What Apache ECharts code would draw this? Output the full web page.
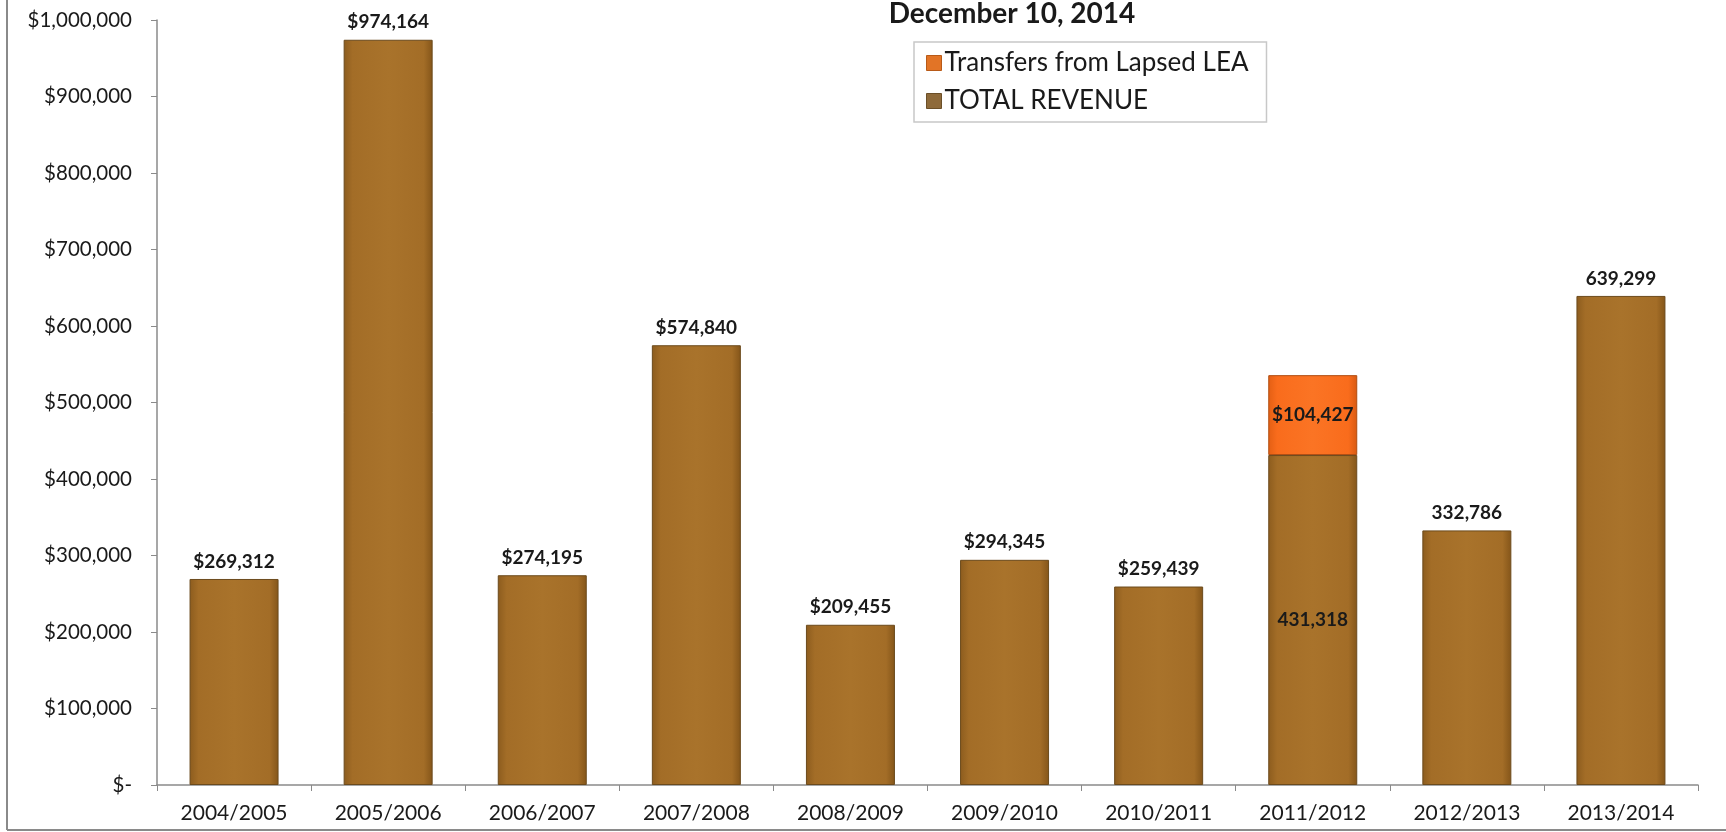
<!DOCTYPE html>
<html>
<head>
<meta charset="utf-8">
<script src="https://cdn.jsdelivr.net/npm/echarts@6/dist/echarts.min.js"></script>
<style>
html,body{margin:0;padding:0;background:#fff;}
#chart{width:1726px;height:832px;}
</style>
</head>
<body>
<div id="chart"></div>
<script>
const titleText = 'December 10, 2014';
const categories = ['2004/2005','2005/2006','2006/2007','2007/2008','2008/2009','2009/2010','2010/2011','2011/2012','2012/2013','2013/2014'];
const totalRevenue = [269312, 974164, 274195, 574840, 209455, 294345, 259439, 431318, 332786, 639299];
const transfers = [null, null, null, null, null, null, null, 104427, null, null];
const totalLabels = ['$269,312','$974,164','$274,195','$574,840','$209,455','$294,345','$259,439','431,318','332,786','639,299'];
const transferLabels = ['','','','','','','','$104,427','',''];
const yTickLabels = ['$-','$100,000','$200,000','$300,000','$400,000','$500,000','$600,000','$700,000','$800,000','$900,000','$1,000,000'];

const FONT = 'Lato, "Open Sans", sans-serif';
const brownGrad = new echarts.graphic.LinearGradient(0,0,1,0,[
  {offset:0,color:'#8c5c1e'},{offset:0.1,color:'#a36d27'},{offset:0.5,color:'#a9732b'},{offset:0.9,color:'#a36d27'},{offset:1,color:'#845519'}]);
const orangeGrad = new echarts.graphic.LinearGradient(0,0,1,0,[
  {offset:0,color:'#e35f14'},{offset:0.1,color:'#f96c1c'},{offset:0.5,color:'#fb7424'},{offset:0.9,color:'#f96c1c'},{offset:1,color:'#d85a12'}]);

const chart = echarts.init(document.getElementById('chart'));
chart.setOption({
  backgroundColor:'#fff',
  animation:false,
  title:{text:titleText,left:1007,top:-5,textAlign:'center',
    textStyle:{fontFamily:FONT,fontWeight:'bold',fontSize:28,color:'#1a1a1a'}},
  legend:{
    data:[{name:'Transfers from Lapsed LEA',itemStyle:{color:'#e27426',borderColor:'#b85a18',borderWidth:1}},
          {name:'TOTAL REVENUE',itemStyle:{color:'#8e6a3a',borderColor:'#6b4f28',borderWidth:1}}],
    orient:'vertical',left:914,top:42,
    padding:[8,18,8,12],itemGap:12,
    borderColor:'#c8c8c8',borderWidth:1.5,
    icon:'rect',itemWidth:15,itemHeight:15,
    textStyle:{fontFamily:FONT,fontSize:26,color:'#1a1a1a',padding:[0,0,0,-2]}
  },
  grid:{left:157,right:28,top:20,bottom:47,containLabel:false},
  xAxis:{
    type:'category',data:categories,
    axisLine:{lineStyle:{color:'#8a8a8a',width:1.5}},
    axisTick:{show:true,length:6,lineStyle:{color:'#8a8a8a'}},
    axisLabel:{fontFamily:FONT,fontSize:21,color:'#1a1a1a',margin:18}
  },
  yAxis:{
    type:'value',min:0,max:1000000,interval:100000,
    splitLine:{show:false},
    axisLine:{show:true,lineStyle:{color:'#8a8a8a',width:1.5}},
    axisTick:{show:true,length:6,lineStyle:{color:'#8a8a8a'}},
    axisLabel:{fontFamily:FONT,fontSize:20.5,color:'#1a1a1a',margin:25,
      formatter:v=>yTickLabels[Math.round(v/100000)]}
  },
  series:[
    {
      name:'TOTAL REVENUE',type:'bar',stack:'s',barWidth:89,
      itemStyle:{color:brownGrad,borderColor:'#6b4a1c',borderWidth:1},
      data:totalRevenue.map((v,i)=>({value:v,
        label:{show:true,position:transfers[i]!=null?'inside':'top',distance:8,
          formatter:totalLabels[i],fontFamily:FONT,fontWeight:'bold',fontSize:19,color:'#1a1a1a'}}))
    },
    {
      name:'Transfers from Lapsed LEA',type:'bar',stack:'s',barWidth:89,
      itemStyle:{color:orangeGrad,borderColor:'#b14c10',borderWidth:1},
      data:transfers.map((v,i)=>({value:v,
        label:{show:v!=null,position:'inside',formatter:transferLabels[i],
          fontFamily:FONT,fontWeight:'bold',fontSize:19,color:'#1a1a1a'}}))
    }
  ],
  graphic:[
    {type:'line',shape:{x1:7,y1:0,x2:7,y2:830},style:{stroke:'#8a8a8a',lineWidth:2}},
    {type:'line',shape:{x1:7,y1:830,x2:1726,y2:830},style:{stroke:'#8a8a8a',lineWidth:2}}
  ]
});
</script>
</body>
</html>
